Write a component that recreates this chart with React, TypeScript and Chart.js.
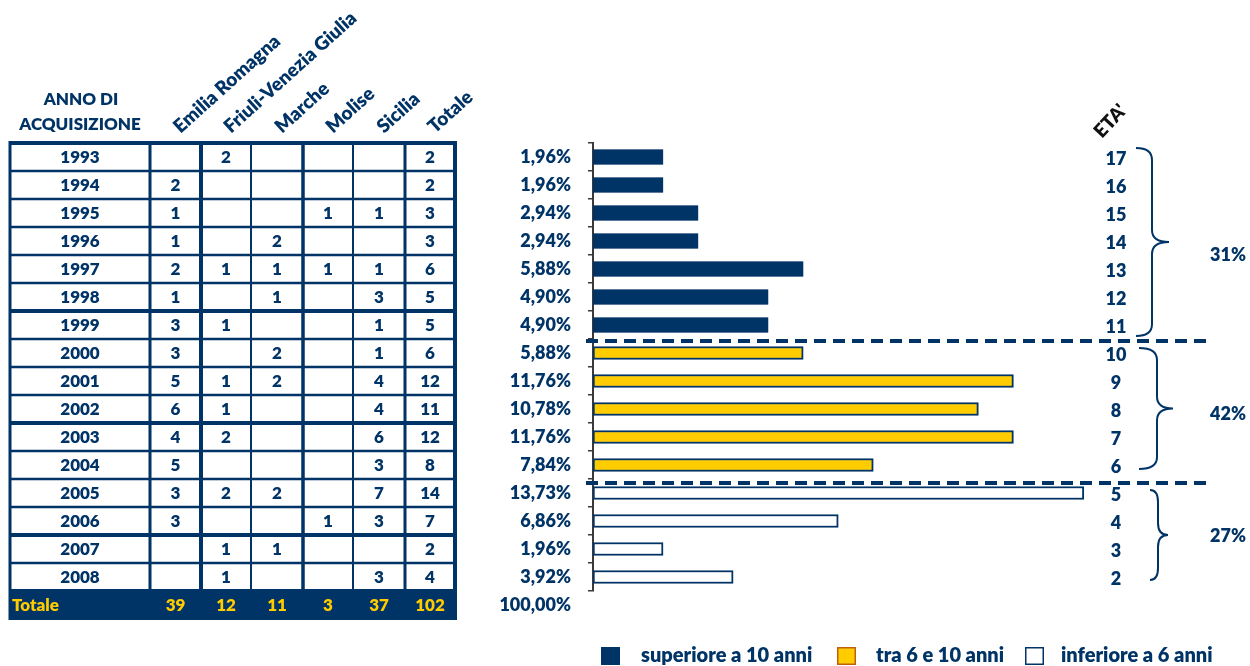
import { useEffect, useRef } from "react";
import { Chart, registerables } from "chart.js";

Chart.register(...registerables);

// ---------- DATA ----------
const years = ["1993", "1994", "1995", "1996", "1997", "1998", "1999", "2000", "2001", "2002", "2003", "2004", "2005", "2006", "2007", "2008"];
const emiliaRomagna = [null, 2, 1, 1, 2, 1, 3, 3, 5, 6, 4, 5, 3, 3, null, null];
const friuliVeneziaGiulia = [2, null, null, null, 1, null, 1, null, 1, 1, 2, null, 2, null, 1, 1];
const marche = [null, null, null, 2, 1, 1, null, 2, 2, null, null, null, 2, null, 1, null];
const molise = [null, null, 1, null, 1, null, null, null, null, null, null, null, null, 1, null, null];
const sicilia = [null, null, 1, null, 1, 3, 1, 1, 4, 4, 6, 3, 7, 3, null, 3];
const totale = [2, 2, 3, 3, 6, 5, 5, 6, 12, 11, 12, 8, 14, 7, 2, 4];
const columnTotals = [39, 12, 11, 3, 37, 102];
const columnHeaders = ["Emilia Romagna", "Friuli-Venezia Giulia", "Marche", "Molise", "Sicilia", "Totale"];
const percentages = [1.96, 1.96, 2.94, 2.94, 5.88, 4.9, 4.9, 5.88, 11.76, 10.78, 11.76, 7.84, 13.73, 6.86, 1.96, 3.92];
const totalPercent = 100;
const ages = ["17", "16", "15", "14", "13", "12", "11", "10", "9", "8", "7", "6", "5", "4", "3", "2"];
const groupLabels = ["superiore a 10 anni", "tra 6 e 10 anni", "inferiore a 6 anni"];
const groupStart = [0, 7, 12];
const groupEnd = [6, 11, 15];
const groupShares = ["31%", "42%", "27%"];

// ---------- STYLE ----------
const FONT = "Lato";
const W = "800";
const NAVY = "#003366";
const YELLOW = "#FFCC00";
const AXIS = "#3a3a3a";
const colEdges = [10, 150, 201, 251, 303, 353, 405, 455];
const colLineW = [3, 3, 4, 2, 3.5, 2, 3, 4];
const thickRowBoundaries = [6, 10, 14];
const braceStyle = [
  { xl: 1136, xv: 1152, xt: 1169, dTop: -9, dBot: 11, labelDy: 13 },
  { xl: 1139, xv: 1157, xt: 1173, dTop: -5, dBot: 4, labelDy: 6 },
  { xl: 1150, xv: 1158, xt: 1168, dTop: -3, dBot: 3, labelDy: 1 },
];
const dashOffsets = [2, 4];
const legendSquareX = [601, 837, 1025];
const legendTextX = [641, 876, 1061];
const legendBorder = [NAVY, "#C0600A", NAVY];
const barFill = [NAVY, YELLOW, "#ffffff"];
const barThick = [15, 13, 13];

const fmtPct = (v: number) => v.toFixed(2).replace(".", ",") + "%";

const datasets = groupLabels.map((label, g) => ({
  label,
  data: percentages.map((v, i) => (i >= groupStart[g] && i <= groupEnd[g] ? v : null)),
  backgroundColor: barFill[g],
  borderColor: NAVY,
  borderWidth: g === 0 ? 0.5 : 2,
  borderSkipped: false,
  barThickness: barThick[g],
}));

const decorations = {
  id: "decorations",
  afterDatasetsDraw(chart: any) {
    const ctx = chart.ctx;
    const y = chart.scales.y;
    const rowH = y.getPixelForValue(1) - y.getPixelForValue(0);
    ctx.save();
    ctx.strokeStyle = NAVY;
    ctx.lineWidth = 4;
    ctx.setLineDash([12, 7]);
    for (let g = 1; g < groupStart.length; g++) {
      const yy = y.getPixelForValue(groupStart[g]) - rowH / 2 + dashOffsets[g - 1];
      ctx.beginPath();
      ctx.moveTo(586, yy);
      ctx.lineTo(1212, yy);
      ctx.stroke();
    }
    ctx.restore();
  },
  afterDraw(chart: any) {
    const ctx = chart.ctx;
    const y = chart.scales.y;
    const rowH = y.getPixelForValue(1) - y.getPixelForValue(0);
    const rc = (i: number) => y.getPixelForValue(i);
    const top = rc(0) - rowH / 2;
    const totalTop = rc(years.length) - rowH / 2 - 2;
    const totalBottom = totalTop + 31;
    const left = colEdges[0];
    const right = colEdges[colEdges.length - 1];
    ctx.save();

    // Totale row background
    ctx.fillStyle = NAVY;
    ctx.fillRect(left, totalTop, right - left + 1.5, totalBottom - totalTop);

    // horizontal lines
    ctx.strokeStyle = NAVY;
    for (let b = 0; b < years.length; b++) {
      const yy = rc(b) - rowH / 2;
      ctx.lineWidth = b === 0 ? 4 : thickRowBoundaries.includes(b) ? 4 : 2.5;
      ctx.beginPath();
      ctx.moveTo(left, yy);
      ctx.lineTo(right + 1.5, yy);
      ctx.stroke();
    }
    // vertical lines
    colEdges.forEach((x, j) => {
      ctx.lineWidth = colLineW[j];
      ctx.beginPath();
      ctx.moveTo(x, top - 2);
      ctx.lineTo(x, j === 0 || j === colEdges.length - 1 ? totalBottom : totalTop);
      ctx.stroke();
    });

    // cell text
    const cols = [emiliaRomagna, friuliVeneziaGiulia, marche, molise, sicilia, totale];
    ctx.font = `${W} 17px ${FONT}`;
    ctx.textAlign = "center";
    ctx.textBaseline = "middle";
    ctx.fillStyle = NAVY;
    years.forEach((yr, i) => {
      const cy = rc(i) + 1;
      ctx.fillText(yr, (colEdges[0] + colEdges[1]) / 2, cy);
      cols.forEach((arr, j) => {
        const v = arr[i];
        if (v !== null && v !== undefined) ctx.fillText(String(v), (colEdges[j + 1] + colEdges[j + 2]) / 2, cy);
      });
    });
    // totale row
    const ty = (totalTop + totalBottom) / 2 + 1;
    ctx.fillStyle = YELLOW;
    ctx.textAlign = "left";
    ctx.fillText("Totale", 12, ty);
    ctx.textAlign = "center";
    columnTotals.forEach((v, j) => ctx.fillText(String(v), (colEdges[j + 1] + colEdges[j + 2]) / 2, ty));

    // header
    ctx.fillStyle = NAVY;
    ctx.font = `${W} 17px ${FONT}`;
    ctx.fillText("ANNO DI", 81, 100);
    ctx.fillText("ACQUISIZIONE", 80, 125);
    ctx.font = `${W} 19px ${FONT}`;
    ctx.textAlign = "left";
    ctx.textBaseline = "alphabetic";
    columnHeaders.forEach((h, j) => {
      const cx = (colEdges[j + 1] + colEdges[j + 2]) / 2;
      ctx.save();
      ctx.translate(cx + 5, 134);
      ctx.rotate((-42 * Math.PI) / 180);
      ctx.fillText(h, 0, 0);
      ctx.restore();
    });

    // 100,00%
    ctx.font = `${W} 18px ${FONT}`;
    ctx.textAlign = "right";
    ctx.textBaseline = "middle";
    ctx.fillText(fmtPct(totalPercent), 571, rc(years.length));

    // ages
    ctx.textAlign = "center";
    ages.forEach((a, i) => ctx.fillText(a, 1116, rc(i) + 2));

    // ETA'
    ctx.save();
    ctx.fillStyle = "#111111";
    ctx.font = `${W} 19px ${FONT}`;
    ctx.textAlign = "left";
    ctx.textBaseline = "alphabetic";
    ctx.translate(1102, 139);
    ctx.rotate((-47 * Math.PI) / 180);
    ctx.fillText("ETA'", 0, 0);
    ctx.restore();

    // braces + shares
    ctx.strokeStyle = NAVY;
    ctx.lineWidth = 2;
    groupStart.forEach((s, g) => {
      const st = braceStyle[g];
      const t = rc(s) + st.dTop;
      const b = rc(groupEnd[g]) + st.dBot;
      const m = (t + b) / 2;
      const r = 12;
      ctx.beginPath();
      ctx.moveTo(st.xl, t);
      ctx.quadraticCurveTo(st.xv, t, st.xv, t + r);
      ctx.lineTo(st.xv, m - r);
      ctx.quadraticCurveTo(st.xv, m, st.xt, m);
      ctx.quadraticCurveTo(st.xv, m, st.xv, m + r);
      ctx.lineTo(st.xv, b - r);
      ctx.quadraticCurveTo(st.xv, b, st.xl, b);
      ctx.stroke();
      ctx.fillStyle = NAVY;
      ctx.font = `${W} 18px ${FONT}`;
      ctx.textAlign = "center";
      ctx.fillText(groupShares[g], 1228, m + st.labelDy);
    });

    // legend
    chart.data.datasets.forEach((ds: any, g: number) => {
      ctx.fillStyle = ds.backgroundColor;
      ctx.fillRect(legendSquareX[g], 647, 19, 18);
      if (g > 0) {
        ctx.strokeStyle = legendBorder[g];
        ctx.lineWidth = 1.5;
        ctx.strokeRect(legendSquareX[g] + 0.75, 647.75, 17.5, 16.5);
      }
      ctx.fillStyle = NAVY;
      ctx.font = `${W} 20px ${FONT}`;
      ctx.textAlign = "left";
      ctx.textBaseline = "middle";
      ctx.fillText(ds.label, legendTextX[g], 656);
    });

    ctx.restore();
  },
};

export default function App() {
  const ref = useRef<HTMLCanvasElement>(null);
  useEffect(() => {
    const canvas = ref.current!;
    const chart = new Chart(canvas, {
      type: "bar",
      data: { labels: years, datasets: datasets as any },
      options: {
        indexAxis: "y",
        responsive: false,
        maintainAspectRatio: false,
        animation: false,
        layout: { padding: { left: 0, top: 143, right: 85, bottom: 75 } },
        plugins: { legend: { display: false }, tooltip: { enabled: false } },
        scales: {
          x: { display: false, min: 0, max: 16, stacked: true },
          y: {
            stacked: true,
            afterFit: (s: any) => {
              s.width = 593;
            },
            grid: { drawOnChartArea: false, drawTicks: true, tickLength: 5, color: AXIS, lineWidth: 1.5, offset: true },
            border: { display: true, color: AXIS, width: 2 },
            ticks: {
              color: NAVY,
              font: { family: FONT, size: 18, weight: W },
              padding: 17,
              autoSkip: false,
              callback: (_v: any, i: number) => fmtPct(percentages[i]),
            },
          },
        },
      } as any,
      plugins: [decorations],
    });
    return () => chart.destroy();
  }, []);
  return (
    <div style={{ position: "absolute", left: 0, top: 0, width: 1250, height: 666, background: "#fff" }}>
      <canvas ref={ref} width={1250} height={666} style={{ display: "block", width: 1250, height: 666 }} />
    </div>
  );
}
